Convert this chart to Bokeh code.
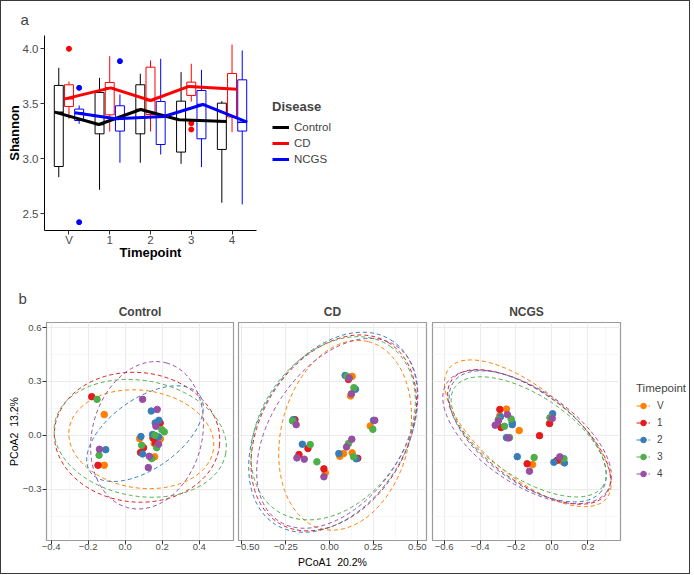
from bokeh.plotting import figure
from bokeh.models import Range1d, FixedTicker, Legend, LegendItem, Title
from bokeh.layouts import column, row
from bokeh.embed import file_html
from bokeh.resources import INLINE

FONT = "Liberation Sans"
TXT = "#4D4D4D"
NAN = float("nan")

# ---------------- panel a data ----------------
timepoints = ["V", "1", "2", "3", "4"]
tp_pos = [1, 2, 3, 4, 5]
diseases = ["Control", "CD", "NCGS"]
disease_colors = ["#000000", "#FF0000", "#0000FF"]
dodge = [-0.25, 0.0, 0.25]

ctrl_low = [2.833, 2.718, 2.964, 2.955, 2.600]
ctrl_q1 = [2.930, 3.227, 3.227, 3.061, 3.085]
ctrl_med = [3.424, 3.312, 3.448, 3.355, 3.339]
ctrl_q3 = [3.667, 3.603, 3.673, 3.524, 3.506]
ctrl_high = [3.827, 3.736, 3.773, 3.788, 3.524]

cd_low = [3.364, 3.248, 3.248, 3.520, 3.242]
cd_q1 = [3.476, 3.400, 3.403, 3.576, 3.380]
cd_med = [3.545, 3.645, 3.530, 3.658, 3.633]
cd_q3 = [3.673, 3.694, 3.833, 3.697, 3.776]
cd_high = [3.703, 3.933, 3.894, 3.864, 4.039]

ncgs_low = [3.318, 2.964, 3.039, 2.924, 2.585]
ncgs_q1 = [3.348, 3.252, 3.130, 3.182, 3.252]
ncgs_med = [3.418, 3.364, 3.385, 3.494, 3.333]
ncgs_q3 = [3.452, 3.482, 3.521, 3.621, 3.718]
ncgs_high = [3.485, 3.585, 3.909, 3.809, 3.985]

# outliers (timepoint position, value)
cd_out_t = [1, 4, 4]
cd_out_v = [4.000, 3.324, 3.267]
ncgs_out_t = [1, 1, 2]
ncgs_out_v = [3.645, 2.424, 3.888]
ctrl_out_t = []
ctrl_out_v = []

# connecting lines (jittered x positions, values)
ctrl_line_x = [0.650, 1.735, 2.757, 3.696, 4.865]
ctrl_line_y = [3.424, 3.312, 3.448, 3.355, 3.339]
cd_line_x = [0.902, 2.022, 3.002, 3.941, 5.127]
cd_line_y = [3.545, 3.645, 3.530, 3.658, 3.633]
ncgs_line_x = [1.147, 2.145, 3.328, 4.284, 5.373]
ncgs_line_y = [3.418, 3.364, 3.385, 3.494, 3.333]

shannon_ticks = [2.5, 3.0, 3.5, 4.0]
shannon_labels = ["2.5", "3.0", "3.5", "4.0"]

# ---------------- panel b data ----------------
tp_colors = ["#FF7F00", "#E41A1C", "#377EB8", "#4DAF4A", "#984EA3"]

ctrl_px = {
    "V": [-0.113, 0.078, 0.157, 0.159, -0.113, 0.190],
    "1": [-0.181, 0.189, 0.150, 0.164, 0.083, 0.099, -0.147],
    "2": [0.141, 0.182, 0.162, 0.085, 0.148, 0.180, 0.094, -0.105],
    "3": [-0.152, 0.198, 0.211, 0.161, 0.089, 0.170, 0.143, -0.141],
    "4": [0.094, 0.173, 0.166, 0.180, 0.130, 0.125, -0.139],
}
ctrl_py = {
    "V": [0.115, -0.019, -0.046, -0.120, -0.167, -0.020],
    "1": [0.215, 0.069, -0.015, -0.046, -0.096, -0.069, -0.167],
    "2": [0.135, 0.083, 0.069, -0.007, 0.004, -0.009, -0.104, -0.080],
    "3": [0.200, 0.031, 0.019, 0.000, -0.056, -0.069, -0.130, -0.111],
    "4": [0.200, 0.144, 0.050, -0.050, -0.117, -0.180, -0.078],
}
cd_px = {
    "V": [0.129, 0.120, 0.232, -0.024, 0.080, 0.059, 0.129],
    "1": [0.108, -0.197, -0.123, -0.174, -0.032, 0.161],
    "2": [0.089, 0.148, -0.207, 0.251, -0.155, 0.053, 0.152],
    "3": [0.099, 0.139, -0.211, 0.247, -0.110, -0.072, 0.108, 0.137],
    "4": [0.112, 0.125, -0.190, 0.258, -0.186, -0.144, -0.032, 0.127, 0.097],
}
cd_py = {
    "V": [0.328, 0.219, 0.052, -0.209, -0.102, -0.117, -0.098],
    "1": [0.311, 0.087, -0.074, -0.107, -0.187, -0.128],
    "2": [0.333, 0.256, 0.087, 0.083, -0.050, -0.102, -0.131],
    "3": [0.328, 0.265, 0.080, 0.033, -0.052, -0.148, -0.046, -0.120],
    "4": [0.319, 0.231, 0.059, 0.083, -0.126, -0.133, -0.231, -0.022, -0.065],
}
ncgs_px = {
    "V": [-0.253, -0.182, -0.108, 0.052, -0.290],
    "1": [-0.290, -0.283, -0.069, -0.013, -0.138, 0.030],
    "2": [-0.287, -0.221, -0.221, -0.253, 0.004, -0.193, 0.011, 0.070],
    "3": [-0.299, -0.227, -0.264, -0.236, -0.011, -0.099, 0.067],
    "4": [-0.298, -0.248, -0.316, -0.242, 0.002, -0.125, 0.044],
}
ncgs_py = {
    "V": [0.146, 0.026, -0.163, -0.143, 0.110],
    "1": [0.144, 0.043, -0.002, 0.065, -0.159, -0.139],
    "2": [0.102, 0.070, 0.059, -0.013, 0.120, -0.119, -0.150, -0.154],
    "3": [0.087, 0.091, 0.050, -0.013, 0.098, -0.124, -0.130],
    "4": [0.080, 0.115, 0.056, -0.015, 0.094, -0.200, -0.120],
}

# 95% ellipses per timepoint: centre x, centre y, width, height, angle (deg)
ctrl_ell_x = [0.087, 0.064, 0.107, 0.081, 0.118]
ctrl_ell_y = [-0.022, -0.011, 0.009, -0.017, 0.000]
ctrl_ell_w = [0.787, 0.895, 0.722, 0.938, 0.809]
ctrl_ell_h = [0.544, 0.722, 0.389, 0.644, 0.611]
ctrl_ell_a = [-8, -5, 35, -10, 75]

cd_ell_x = [0.089, 0.024, 0.021, 0.021, 0.044]
cd_ell_y = [0.000, 0.013, 0.017, 0.039, 0.011]
cd_ell_w = [1.100, 1.204, 1.241, 1.139, 1.203]
cd_ell_h = [0.714, 0.810, 0.811, 0.800, 0.737]
cd_ell_a = [76, 59, 58, 55, 56]

ncgs_ell_x = [-0.134, -0.127, -0.135, -0.129, -0.138]
ncgs_ell_y = [0.011, -0.009, -0.006, -0.009, -0.009]
ncgs_ell_w = [1.137, 1.069, 1.023, 0.992, 1.077]
ncgs_ell_h = [0.488, 0.492, 0.502, 0.460, 0.524]
ncgs_ell_a = [-39.7, -36.6, -36.5, -33.6, -34.1]

pcoa_y_ticks = [-0.3, 0.0, 0.3, 0.6]
pcoa_y_minor = [-0.45, -0.15, 0.15, 0.45]
pcoa_y_labels = ["\u22120.3", "0.0", "0.3", "0.6"]
ctrl_x_ticks = [-0.4, -0.2, 0.0, 0.2, 0.4]
ctrl_x_minor = [-0.3, -0.1, 0.1, 0.3, 0.5]
ctrl_x_labels = ["\u22120.4", "\u22120.2", "0.0", "0.2", "0.4"]
cd_x_ticks = [-0.5, -0.25, 0.0, 0.25, 0.5]
cd_x_minor = [-0.375, -0.125, 0.125, 0.375]
cd_x_labels = ["\u22120.50", "\u22120.25", "0.00", "0.25", "0.50"]
ncgs_x_ticks = [-0.6, -0.4, -0.2, 0.0, 0.2]
ncgs_x_minor = [-0.5, -0.3, -0.1, 0.1, 0.3]
ncgs_x_labels = ["\u22120.6", "\u22120.4", "\u22120.2", "0.0", "0.2"]


def legend_canvas(w, h):
    f = figure(width=w, height=h, min_border=0, x_axis_type=None, y_axis_type=None,
               x_range=Range1d(0, 1), y_range=Range1d(0, 1),
               output_backend="svg", toolbar_location=None, title=None)
    f.outline_line_color = None
    f.border_fill_color = None
    f.background_fill_color = None
    return f


# ================= panel a =================
pa = figure(frame_width=212, frame_height=195,
            min_border_left=44, min_border_right=4,
            min_border_top=35, min_border_bottom=52,
            x_range=Range1d(0.4, 5.6), y_range=Range1d(2.348, 4.121),
            output_backend="svg", toolbar_location=None)
pa.border_fill_color = None
pa.title.text = "a"
pa.title.align = "left"
pa.title.offset = -24
pa.title.standoff = 16
pa.title.text_font = FONT
pa.title.text_font_size = "15px"
pa.title.text_font_style = "normal"
pa.grid.visible = False
pa.outline_line_color = None

stats = [
    (ctrl_low, ctrl_q1, ctrl_med, ctrl_q3, ctrl_high, ctrl_out_t, ctrl_out_v, ctrl_line_x, ctrl_line_y),
    (cd_low, cd_q1, cd_med, cd_q3, cd_high, cd_out_t, cd_out_v, cd_line_x, cd_line_y),
    (ncgs_low, ncgs_q1, ncgs_med, ncgs_q3, ncgs_high, ncgs_out_t, ncgs_out_v, ncgs_line_x, ncgs_line_y),
]
box_w = 0.22
for k, (lo, q1, med, q3, hi, ot, ov, lx, ly) in enumerate(stats):
    col = disease_colors[k]
    pos = [t + dodge[k] for t in tp_pos]
    pa.segment(x0=pos, y0=lo, x1=pos, y1=hi, line_color=col, line_width=1)
    pa.vbar(x=pos, width=box_w, bottom=q1, top=q3, fill_color="white",
            line_color=col, line_width=1)
    pa.segment(x0=[p - box_w / 2 for p in pos], y0=med,
               x1=[p + box_w / 2 for p in pos], y1=med, line_color=col, line_width=1.5)
    if ot:
        pa.scatter(x=[t + dodge[k] for t in ot], y=ov, size=5, color=col)
for k, (lo, q1, med, q3, hi, ot, ov, lx, ly) in enumerate(stats):
    pa.line(x=lx, y=ly, line_color=disease_colors[k], line_width=3)

pa.xaxis.ticker = FixedTicker(ticks=tp_pos)
pa.xaxis.major_label_overrides = {t: l for t, l in zip(tp_pos, timepoints)}
pa.yaxis.ticker = FixedTicker(ticks=shannon_ticks)
pa.yaxis.major_label_overrides = {t: l for t, l in zip(shannon_ticks, shannon_labels)}
pa.xaxis.axis_label = "Timepoint"
pa.yaxis.axis_label = "Shannon"
for ax in (pa.xaxis, pa.yaxis):
    ax.axis_line_color = "#000000"
    ax.axis_line_width = 1
    ax.major_tick_line_color = "#333333"
    ax.major_tick_in = 0
    ax.major_tick_out = 4
    ax.minor_tick_line_color = None
    ax.major_label_text_font = FONT
    ax.major_label_text_font_size = "11.5px"
    ax.major_label_text_color = TXT
    ax.axis_label_text_font = FONT
    ax.axis_label_text_font_size = "13px"
    ax.axis_label_text_font_style = "bold"
    ax.axis_label_text_color = "#000000"
pa.xaxis.major_label_standoff = -1
pa.xaxis.axis_label_standoff = -4
pa.yaxis.major_label_standoff = 2
pa.yaxis.axis_label_standoff = -2

# Disease legend on its own canvas, right of panel a
la = legend_canvas(430, 282)
leg_a_items = []
for d, c in zip(diseases, disease_colors):
    r = la.line(x=[NAN, NAN], y=[NAN, NAN], line_color=c, line_width=3)
    leg_a_items.append(LegendItem(label=d, renderers=[r]))
leg_a = Legend(items=leg_a_items, title="Disease", location=(12, 63), padding=0,
               border_line_color=None, background_fill_alpha=0,
               title_text_font=FONT, title_text_font_size="13px", title_text_font_style="bold",
               label_text_font=FONT, label_text_font_size="11.5px",
               glyph_width=17, glyph_height=16, label_height=16, spacing=0,
               label_standoff=5, title_standoff=5)
la.add_layout(leg_a)

# ================= panel b =================
yr = Range1d(-0.586, 0.628)


def style_axis(ax, ticks, minor, labels):
    ax.ticker = FixedTicker(ticks=ticks, minor_ticks=minor)
    ax.major_label_overrides = {t: l for t, l in zip(ticks, labels)}
    ax.axis_line_color = None
    ax.major_tick_line_color = "#333333"
    ax.major_tick_in = 0
    ax.major_tick_out = 4
    ax.minor_tick_line_color = None
    ax.major_label_text_font = FONT
    ax.major_label_text_font_size = "9.5px"
    ax.major_label_text_color = TXT
    ax.major_label_standoff = 1
    ax.axis_label_text_font = FONT
    ax.axis_label_text_font_size = "10.5px"
    ax.axis_label_text_font_style = "normal"
    ax.axis_label_text_color = "#000000"
    ax.axis_label_standoff = 0


def facet(name, px, py, ex, ey, ew, eh, ea, xr, xt, xm, xl, fw, bl, br, show_y, xlabel):
    p = figure(frame_width=fw, frame_height=218, min_border_left=bl, min_border_right=br,
               min_border_top=40, min_border_bottom=34, title=None,
               x_range=Range1d(*xr), y_range=yr,
               output_backend="svg", toolbar_location=None)
    p.border_fill_color = None
    p.add_layout(Title(text=name, align="center", text_font=FONT, text_font_size="12px",
                       text_font_style="bold", standoff=7), "above")
    p.outline_line_color = "#9A9A9A"
    p.outline_line_width = 1.2
    style_axis(p.xaxis[0], xt, xm, xl)
    style_axis(p.yaxis[0], pcoa_y_ticks, pcoa_y_minor, pcoa_y_labels)
    p.xaxis.major_label_standoff = -1
    p.xgrid.ticker = p.xaxis[0].ticker
    p.ygrid.ticker = p.yaxis[0].ticker
    for g in (p.xgrid, p.ygrid):
        g.grid_line_color = "#EBEBEB"
        g.grid_line_width = 1
        g.minor_grid_line_color = "#F4F4F4"
        g.minor_grid_line_width = 0.7
    if not show_y:
        p.yaxis.visible = False
    else:
        p.yaxis.axis_label = "PCoA2 \u00a013.2%"
    if xlabel:
        p.xaxis.axis_label = xlabel
        p.xaxis.axis_label_standoff = 3
    for i, tp in enumerate(timepoints):
        p.ellipse(x=[ex[i]], y=[ey[i]], width=[ew[i]], height=[eh[i]], angle=[ea[i]],
                  angle_units="deg", fill_color=None, line_color=tp_colors[i],
                  line_width=1, line_dash="4 3")
    for i, tp in enumerate(timepoints):
        p.scatter(x=px[tp], y=py[tp], size=6.5, color=tp_colors[i])
    return p


pc = facet("Control", ctrl_px, ctrl_py, ctrl_ell_x, ctrl_ell_y, ctrl_ell_w, ctrl_ell_h, ctrl_ell_a,
           (-0.425, 0.585), ctrl_x_ticks, ctrl_x_minor, ctrl_x_labels, 187, 46, 2, True, None)
pc.add_layout(Title(text="b", align="left", offset=-28, text_font=FONT, text_font_size="15px",
                    text_font_style="normal", standoff=-15), "above")
pcd = facet("CD", cd_px, cd_py, cd_ell_x, cd_ell_y, cd_ell_w, cd_ell_h, cd_ell_a,
            (-0.519, 0.553), cd_x_ticks, cd_x_minor, cd_x_labels, 188, 3, 3, False,
            "PCoA1 \u00a020.2%")
pn = facet("NCGS", ncgs_px, ncgs_py, ncgs_ell_x, ncgs_ell_y, ncgs_ell_w, ncgs_ell_h, ncgs_ell_a,
           (-0.665, 0.382), ncgs_x_ticks, ncgs_x_minor, ncgs_x_labels, 188, 3, 3, False, None)

# Timepoint legend on its own canvas, right of the facets
lb = legend_canvas(67, 292)
leg_b_items = []
for i, tp in enumerate(timepoints):
    lr = lb.line(x=[NAN, NAN], y=[NAN, NAN], line_color=tp_colors[i], line_width=1, line_dash="4 2")
    sr = lb.scatter(x=[NAN], y=[NAN], size=6.5, color=tp_colors[i])
    leg_b_items.append(LegendItem(label=tp, renderers=[lr, sr]))
leg_b = Legend(items=leg_b_items, title="Timepoint", location=(13, 58), padding=0,
               border_line_color=None, background_fill_alpha=0,
               title_text_font=FONT, title_text_font_size="11.5px", title_text_font_style="normal",
               label_text_font=FONT, label_text_font_size="10px",
               glyph_width=14, glyph_height=17, label_height=17, spacing=0,
               label_standoff=7, title_standoff=3)
lb.add_layout(leg_b)

layout = column(row(pa, la), row(pc, pcd, pn, lb), width=690, height=574,
                styles={"outline": "1px solid #3a3a3a", "outline-offset": "-1px"})
open("out.html", "w").write(file_html(layout, INLINE))
